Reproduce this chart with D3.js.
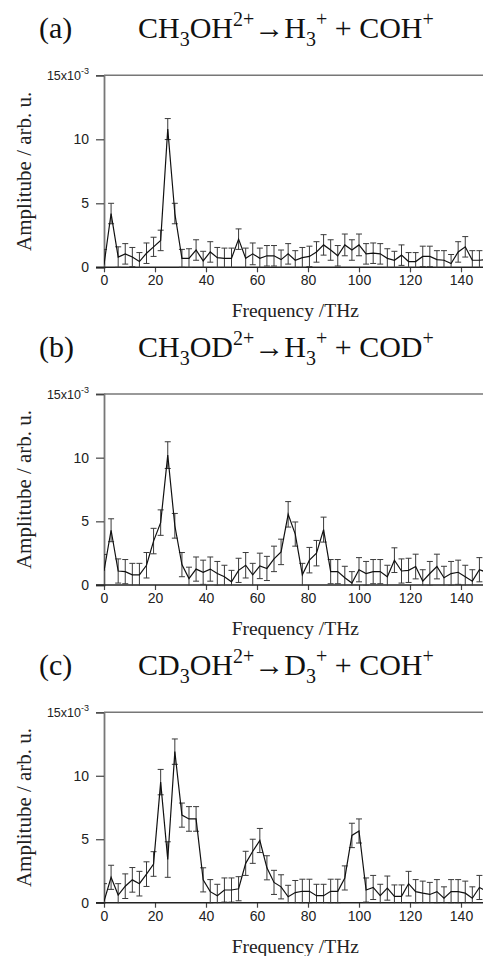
<!DOCTYPE html>
<html lang="en">
<head>
<meta charset="UTF-8">
<title>Amplitude spectra</title>
<script src="https://d3js.org/d3.v7.min.js"></script>
<style>
    body { margin: 0; padding: 0; background: #fff; }
    svg { display: block; }
    .title { font-family: "Liberation Serif", "Times New Roman", serif; font-size: 30px; fill: #111; }
    .label { font-family: "Liberation Serif", "Times New Roman", serif; font-size: 19.5px; fill: #222; }
    .ylabel { font-size: 21px; }
    .axis text { font-family: "Liberation Sans", Arial, sans-serif; font-size: 14px; fill: #222; }
    .axis line { stroke: #444; }
    .data-line { fill: none; stroke: #111; stroke-width: 1.2px; }
    .err { stroke: #3a3a3a; stroke-width: 1px; }
</style>
</head>
<body>
<svg id="chart" width="483" height="956"></svg>
<script>
// frequency grid (THz)
const freq = [0, 2.78, 5.56, 8.33, 11.11, 13.89, 16.67, 19.44, 22.22, 25,
    27.78, 30.56, 33.33, 36.11, 38.89, 41.67, 44.44, 47.22, 50, 52.78,
    55.56, 58.33, 61.11, 63.89, 66.67, 69.44, 72.22, 75, 77.78, 80.56,
    83.33, 86.11, 88.89, 91.67, 94.44, 97.22, 100, 102.78, 105.56, 108.33,
    111.11, 113.89, 116.67, 119.44, 122.22, 125, 127.78, 130.56, 133.33, 136.11,
    138.89, 141.67, 144.44, 147.22, 150];

// amplitudes and errors in units of 1e-3
const ampA = [0.2, 4.2, 0.8, 1.05, 0.8, 0.45, 1.1, 1.6, 2.1, 10.8,
    4.2, 0.7, 0.7, 1.35, 0.5, 1.2, 0.75, 0.7, 0.7, 2.2,
    0.7, 1.05, 0.7, 0.9, 0.9, 0.6, 1.05, 0.55, 0.75, 0.85,
    1.2, 1.75, 1.35, 0.9, 1.75, 1.35, 1.75, 1.05, 1.1, 1.05,
    0.7, 0.55, 0.95, 0.45, 0.45, 0.85, 0.85, 0.6, 0.55, 0.3,
    1.2, 1.6, 0.55, 0.55, 0.6];
const errA = [1.2, 0.8, 0.8, 0.8, 0.75, 0.7, 0.8, 0.75, 0.8, 0.82,
    0.8, 0.7, 0.75, 0.8, 0.75, 0.8, 0.8, 0.8, 0.8, 0.8,
    0.8, 0.85, 0.8, 0.8, 0.8, 0.75, 0.8, 0.75, 0.8, 0.8,
    0.8, 0.8, 0.8, 0.8, 0.85, 0.8, 0.85, 0.8, 0.8, 0.8,
    0.75, 0.7, 0.8, 0.7, 0.7, 0.8, 0.8, 0.7, 0.75, 0.7,
    0.8, 0.8, 0.75, 0.75, 0.75];

const ampB = [1.1, 4.3, 1.1, 1.05, 0.8, 0.8, 1.55, 3.45, 4.9, 10.2,
    4.65, 1.6, 0.5, 1.25, 1.0, 1.25, 0.9, 0.65, 0.25, 1.15,
    1.55, 0.8, 1.5, 1.3, 2.05, 2.6, 5.55, 4.0, 0.8, 1.95,
    2.5, 4.35, 1.05, 1.05, 0.57, 0.15, 1.2, 0.9, 1.05, 1.05,
    0.65, 1.95, 1.1, 1.15, 1.45, 0.3, 0.9, 1.45, 0.57, 0.9,
    1.0, 0.65, 0.3, 1.2, 1.0];
const errB = [1.3, 0.9, 0.95, 0.95, 0.9, 0.9, 1.0, 1.0, 1.0, 1.05,
    0.97, 0.95, 0.9, 0.95, 0.95, 0.95, 0.95, 0.9, 0.9, 0.95,
    1.0, 0.9, 1.0, 0.95, 1.0, 1.0, 1.0, 0.95, 0.9, 1.0,
    1.0, 0.98, 0.95, 0.95, 0.9, 0.9, 0.95, 0.95, 0.95, 0.95,
    0.9, 0.97, 0.95, 0.95, 0.97, 0.9, 0.95, 0.97, 0.9, 0.95,
    0.95, 0.9, 0.9, 0.95, 0.95];

const ampC = [0.1, 2.0, 0.6, 1.3, 1.8, 1.5, 2.25, 3.05, 9.5, 3.4,
    11.9, 6.9, 6.6, 6.6, 1.8, 0.87, 0.55, 1.0, 1.0, 1.1,
    3.1, 4.05, 4.9, 2.75, 1.6, 1.25, 0.47, 0.8, 0.9, 0.9,
    0.55, 0.55, 0.9, 0.9, 1.95, 5.3, 5.65, 1.0, 1.2, 0.55,
    1.15, 0.5, 0.5, 1.5, 0.87, 0.75, 0.65, 0.87, 0.35, 0.87,
    0.87, 0.75, 0.35, 1.2, 0.9];
const errC = [1.4, 0.95, 0.9, 0.97, 0.97, 0.97, 0.97, 0.97, 1.0, 1.4,
    1.0, 0.95, 0.97, 0.97, 0.95, 0.95, 0.9, 0.95, 0.95, 0.95,
    0.95, 0.95, 0.95, 0.95, 0.95, 0.95, 0.9, 0.95, 0.95, 0.95,
    0.9, 0.9, 0.95, 0.95, 0.95, 0.96, 0.95, 0.95, 0.95, 0.9,
    0.95, 0.9, 0.9, 0.97, 0.95, 0.95, 0.95, 0.95, 0.9, 0.95,
    0.95, 0.95, 0.9, 0.95, 0.95];

const xTicks = [0, 20, 40, 60, 80, 100, 120, 140];
const yTicks = [0, 5, 10, 15];
const xLabel = "Frequency /THz";
const yLabel = "Amplitube / arb. u.";

// title pieces: [text, "" | "sub" | "sup"]
const titleA = [["CH", ""], ["3", "sub"], ["OH", ""], ["2+", "sup"], ["\u2192H", ""], ["3", "sub"], ["+", "sup"], [" + COH", ""], ["+", "sup"]];
const titleB = [["CH", ""], ["3", "sub"], ["OD", ""], ["2+", "sup"], ["\u2192H", ""], ["3", "sub"], ["+", "sup"], [" + COD", ""], ["+", "sup"]];
const titleC = [["CD", ""], ["3", "sub"], ["OH", ""], ["2+", "sup"], ["\u2192D", ""], ["3", "sub"], ["+", "sup"], [" + COH", ""], ["+", "sup"]];

const panels = [
    { tag: "(a)", title: titleA, amp: ampA, err: errA, top: 75.3, bottom: 267.3 },
    { tag: "(b)", title: titleB, amp: ampB, err: errB, top: 394, bottom: 585 },
    { tag: "(c)", title: titleC, amp: ampC, err: errC, top: 712.3, bottom: 902.7 }
];

const left = 104, right = 486.5;
const svg = d3.select("#chart");

const x = d3.scaleLinear().domain([0, 150]).range([left, right]);

panels.forEach((p, i) => {
    const y = d3.scaleLinear().domain([0, 15]).range([p.bottom, p.top]);
    const g = svg.append("g");

    // title
    g.append("text").attr("class", "title")
        .attr("x", 39).attr("y", p.top - 37).text(p.tag);

    const t = g.append("text").attr("class", "title")
        .attr("x", 138).attr("y", p.top - 37);
    let shift = 0;
    p.title.forEach(([s, kind]) => {
        const target = kind === "sub" ? 8 : kind === "sup" ? -12 : 0;
        t.append("tspan")
            .attr("dy", target - shift)
            .style("font-size", kind ? "20px" : null)
            .text(s);
        shift = target;
    });

    // clip for data
    svg.append("clipPath").attr("id", "clip" + i)
        .append("rect")
        .attr("x", left).attr("y", p.top)
        .attr("width", right - left).attr("height", p.bottom - p.top + 0.5);

    // top frame line (grey)
    g.append("line")
        .attr("x1", left).attr("x2", right)
        .attr("y1", p.top).attr("y2", p.top)
        .attr("stroke", "#777").attr("stroke-width", 1.6);

    // axes
    const yAxis = g.append("g").attr("class", "axis")
        .attr("transform", `translate(${left},0)`)
        .call(d3.axisLeft(y).tickValues(yTicks).tickSize(8).tickPadding(7));
    yAxis.select(".domain").attr("stroke", "#777").attr("stroke-width", 1.8);
    yAxis.selectAll(".tick line").attr("stroke", "#555").attr("stroke-width", 1.2);
    yAxis.selectAll(".tick text")
        .filter(d => d === 15)
        .text("15x10")
        .style("font-size", "12.5px")
        .append("tspan")
        .attr("dy", -6)
        .style("font-size", "9px")
        .text("-3");

    const xAxis = g.append("g").attr("class", "axis")
        .attr("transform", `translate(0,${p.bottom})`)
        .call(d3.axisBottom(x).tickValues(xTicks).tickSize(5).tickPadding(3));
    xAxis.select(".domain").remove();
    xAxis.selectAll(".tick line").attr("stroke", "#333").attr("stroke-width", 1.2);

    g.append("line")
        .attr("x1", left - 8).attr("x2", right)
        .attr("y1", p.bottom).attr("y2", p.bottom)
        .attr("stroke", "#222").attr("stroke-width", 1.5);

    // axis labels
    g.append("text").attr("class", "label")
        .attr("text-anchor", "middle")
        .attr("x", (left + right) / 2).attr("y", p.bottom + 50)
        .text(xLabel);

    g.append("text").attr("class", "label ylabel")
        .attr("text-anchor", "middle")
        .attr("transform", `translate(31,${(p.top + p.bottom) / 2}) rotate(-90)`)
        .text(yLabel);

    // data
    const data = freq.map((f, k) => ({ f: f, v: p.amp[k], e: p.err[k] }));
    const plot = g.append("g").attr("clip-path", `url(#clip${i})`);

    const bars = plot.selectAll(".bar").data(data).enter().append("g").attr("class", "err");
    bars.append("line")
        .attr("x1", d => x(d.f)).attr("x2", d => x(d.f))
        .attr("y1", d => y(d.v - d.e)).attr("y2", d => y(d.v + d.e));
    bars.append("line")
        .attr("x1", d => x(d.f) - 3).attr("x2", d => x(d.f) + 3)
        .attr("y1", d => y(d.v + d.e)).attr("y2", d => y(d.v + d.e));
    bars.append("line")
        .attr("x1", d => x(d.f) - 3).attr("x2", d => x(d.f) + 3)
        .attr("y1", d => y(d.v - d.e)).attr("y2", d => y(d.v - d.e));

    plot.append("path")
        .datum(data)
        .attr("class", "data-line")
        .attr("d", d3.line().x(d => x(d.f)).y(d => y(d.v)));
});
</script>
</body>
</html>
